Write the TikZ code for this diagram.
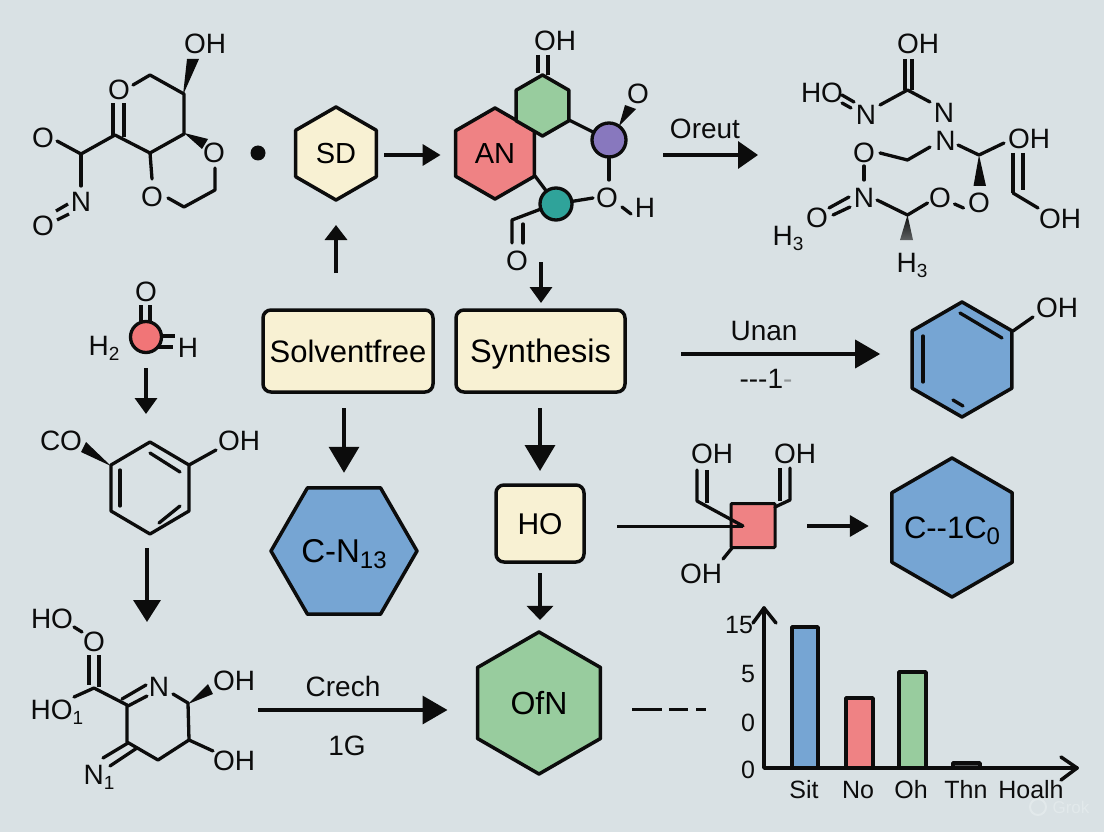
\documentclass[tikz,border=0pt]{standalone}
\usepackage{fontspec}
\setmainfont{Liberation Sans}
\usetikzlibrary{arrows.meta,shapes.geometric,calc}
\definecolor{bgc}{HTML}{D9E1E4}
\definecolor{cream}{HTML}{F8F1D3}
\definecolor{blu}{HTML}{76A5D3}
\definecolor{rd}{HTML}{EF8284}
\definecolor{grn}{HTML}{98CC9E}
\definecolor{prp}{HTML}{8878BE}
\definecolor{tel}{HTML}{2FA39A}
\definecolor{ink}{HTML}{0C0C0C}
\newcommand{\sbs}[1]{\raisebox{-5pt}{\fontsize{19}{19}\selectfont #1}}
\newcommand{\sbb}[1]{\raisebox{-6pt}{\fontsize{24}{24}\selectfont #1}}
\tikzset{
  fs/.style={font=\fontsize{#1}{#1}\selectfont,text height=0.716*#1pt,text depth=0pt,inner sep=0pt},
  lab/.style={fs=28,text=ink},
  tick/.style={fs=25,text=ink},
  bond/.style={draw=ink,line width=3.3pt,line cap=round,line join=round},
  wedge/.style={fill=ink,draw=none},
  hexv/.style={regular polygon,regular polygon sides=6,draw=ink,line width=3.5pt,line join=round,outer sep=0pt,inner sep=0pt,minimum size=#1},
  box/.style={draw=ink,line width=3.5pt,rounded corners=8pt,fill=cream,outer sep=0pt,inner sep=0pt},
  flow/.style 2 args={draw=ink,line width=3.5pt,-{Triangle[length=#1,width=#2]}},
  atom/.style={circle,draw=ink,line width=3.3pt,inner sep=0pt,outer sep=0pt,minimum size=#1},
  bar/.style={draw=ink,line width=3.5pt,line join=round},
  axis/.style={draw=ink,line width=3.5pt,line cap=round,line join=round}
}
\begin{document}
\begin{tikzpicture}[x=1pt,y=-1pt]
\useasboundingbox (0,0) rectangle (1104,832);
\fill[bgc] (0,0) rectangle (1104,832);

% ---------- main nodes
\node[hexv=93pt,shape border rotate=30,fill=cream,fs=29] (sd) at (336,153.5) {SD};
\node[hexv=91pt,shape border rotate=30,fill=rd,fs=29] (an) at (495,153.5) {AN};
\node[hexv=61pt,shape border rotate=30,fill=grn] (gh) at (542.5,105.5) {};
\node[box,minimum width=170pt,minimum height=82pt,fs=31] (solv) at (348,351) {Solventfree};
\node[box,minimum width=169pt,minimum height=82pt,fs=32.5] (syn) at (540.5,351) {Synthesis};
\node[box,minimum width=88pt,minimum height=77pt,fs=30] (ho) at (540,523.5) {HO};
\node[hexv=146pt,fill=blu,fs=33] (cn) at (344,551) {C-N\sbb{13}};
\node[hexv=142pt,shape border rotate=30,fill=grn,fs=32] (ofn) at (539,703) {OfN};
\node[hexv=115pt,shape border rotate=30,fill=blu] (phen) at (962,359.5) {};
\node[hexv=139pt,shape border rotate=30,fill=blu] (coc) at (952,527.5) {};
\node[fs=31] (coctext) at (coc.center) {C{-}{-}1C\sbb{0}};
\node[draw=ink,line width=3pt,fill=rd,minimum size=44pt,inner sep=0pt,outer sep=0pt,rounded corners=1pt] (sq) at (753,525.5) {};

% ---------- free ends
\coordinate (anout) at (541,262);
\coordinate (orS) at (663,155);
\coordinate (orT) at (758,155);
\coordinate (crS) at (258,710);
\coordinate (w1S) at (146,368);
\coordinate (w1T) at (146,414);
\coordinate (w2S) at (147,548);
\coordinate (w2T) at (147,622);
\coordinate (sdrow) at (0,155);
\coordinate (sqrow) at (0,526);

% ---------- flow arrows
\draw[flow={18pt}{21pt},shorten <=8pt,shorten >=15pt] (sdrow -| sd.east) -- (sdrow -| an.west);
\draw[flow={15pt}{22pt},shorten <=37pt,shorten >=25pt] (sd.south |- solv.north) -- (sd.south);
\draw[flow={16pt}{22pt},shorten >=7pt] (anout) -- (anout |- syn.north);
\draw[flow={20pt}{27pt}] (orS) -- (orT);
\draw[flow={26pt}{30pt},shorten <=16pt,shorten >=15pt] (cn.north |- solv.south) -- (cn.north);
\draw[flow={26pt}{30pt},shorten <=16pt,shorten >=14pt] (ho.north |- syn.south) -- (ho.north);
\draw[flow={14pt}{26pt},shorten <=11pt,shorten >=12pt] (ho.south) -- (ho.south |- ofn.north);
\draw[flow={25pt}{28pt},shorten <=56pt,shorten >=32pt] ($(syn.east)+(0,3)$) -- ($(phen.west)+(0,-5.5)$);
\draw[flow={25pt}{28pt},shorten >=30pt] (crS) -- (crS -| ofn.west);
\draw[flow={16pt}{22pt}] (w1S) -- (w1T);
\draw[flow={22pt}{27pt}] (w2S) -- (w2T);

% red square crossing arrow
\draw[ink,line width=3pt,shorten <=33pt,shorten >=10pt] (sqrow -| ho.east) -- (sqrow -| sq.center);
\draw[flow={19pt}{21pt},shorten <=32pt,shorten >=23pt] (sqrow -| sq.east) -- (sqrow -| coc.west);

% ---------- top-left molecule
\node[lab] (m1oh) at (205,43) {OH};
\node[lab] (m1o1) at (119,89) {O};
\node[lab] (m1o2) at (214,152) {O};
\node[lab] (m1o3) at (152,196) {O};
\node[lab] (m1o4) at (43,137) {O};
\node[lab] (m1n) at (81,201) {N};
\node[lab] (m1o5) at (43,225) {O};
\draw[bond] (133,85) -- (150,75) -- (184,94) -- (184,134) -- (150,153) -- (115,135) -- (81,154) -- (57,141);
\draw[bond] (81,154) -- (81,186);
\draw[bond] (150,153) -- (152,179);
\draw[bond] (168,198) -- (184,207) -- (215,190) -- (215,168);
\draw[bond,line cap=butt] (113,135) -- (113,103) (124,137) -- (124,103);
\draw[bond,line cap=butt] (57,220) -- (69,214) (56,211) -- (68,204);
\fill[wedge] (183,95) -- (187,59) -- (199,59) -- cycle;
\fill[wedge] (184,133) -- (202,149) -- (208,139) -- cycle;
\fill[ink] (258,153) circle (7.5);

% ---------- AN cluster
\node[atom=34pt,fill=prp] (pa) at (609,140) {};
\node[atom=32pt,fill=tel] (ta) at (556,204) {};
\node[lab] (m2oh) at (555,40) {OH};
\node[lab] (m2o1) at (638,93) {O};
\node[lab] (m2o2) at (607,197) {O};
\node[lab] (m2h) at (645,207) {H};
\node[lab] (m2o3) at (517,260) {O};
\draw[bond,line cap=butt] (538,55) -- (538,73) (548,55) -- (548,75);
\draw[bond] (569,120) -- (pa);
\draw[bond] (609,157) -- (609,180);
\draw[bond] (622,207) -- (631,214);
\draw[bond] (ta) -- (593,198);
\draw[bond] (535,176) -- (ta);
\draw[bond] (541,209) -- (512,220) -- (512,243);
\draw[bond] (523,224) -- (523,243);
\fill[wedge] (619,126) -- (625,105) -- (636,109) -- cycle;
\node[lab] (oreut) at (705,128) {Oreut};

% ---------- top-right molecule
\node[lab] (m3oh1) at (918,43) {OH};
\node[lab] (m3ho) at (822,92) {HO};
\node[lab] (m3n1) at (866,114) {N};
\node[lab] (m3n2) at (944,112) {N};
\node[lab] (m3n3) at (945.5,140) {N};
\node[lab] (m3o1) at (864,152) {O};
\node[lab] (m3n4) at (864,197) {N};
\node[lab] (m3o2) at (817,217) {O};
\node[lab] (m3o3) at (940,197) {O};
\node[lab] (m3o4) at (979,202) {O};
\node[lab] (m3oh2) at (1029,138) {OH};
\node[lab] (m3oh3) at (1060,218) {OH};
\node[lab] (m3h1) at (788,235) {H\sbs{3}};
\node[lab] (m3h2) at (912,262) {H\sbs{3}};
\draw[bond,line cap=butt] (905,59) -- (905,90) (912,59) -- (912,90);
\draw[bond] (880,105) -- (907.5,90) -- (930,102);
\draw[bond] (930,147) -- (907.5,160) -- (880,153);
\draw[bond] (842,95) -- (854,102) (842,103) -- (851,108);
\draw[bond] (864,166) -- (864,180);
\draw[bond] (829,208) -- (849,197) (833,215) -- (850,207);
\draw[bond] (877,200) -- (907.5,215) -- (927.5,203);
\draw[bond] (954.5,204) -- (963.5,208);
\draw[bond] (958,145) -- (979,155) -- (1004,143);
\draw[bond,line cap=butt] (1013,153) -- (1013,193) (1023,153) -- (1023,190);
\draw[bond] (1013,193) -- (1038,208);
\fill[wedge] (979,155) -- (973.5,186) -- (986,186) -- cycle;
\shade[top color=ink,bottom color=ink!60!bgc] (907.5,215) -- (900,240) -- (913,240) -- cycle;

% ---------- left: small molecule
\node[lab] (m4o) at (146,291) {O};
\node[lab] (m4h2) at (104,345) {H\sbs{2}};
\node[lab] (m4h) at (188,347) {H};
\draw[bond,line cap=butt] (141,305) -- (141,324) (150,305) -- (150,324);
\draw[bond,line cap=butt] (158,336) -- (175,336) (155,347) -- (173,347);
\node[atom=31pt,fill=rd!90!red] (m4c) at (146,337) {};

% ---------- left: ring
\node[lab] (m5co) at (61,440) {CO};
\node[lab] (m5oh) at (239,440) {OH};
\draw[bond] (150,442) -- (189,465) -- (189,511) -- (150,534) -- (111,511) -- (111,465) -- cycle;
\draw[bond] (150,453) -- (180,472);
\draw[bond] (120,470) -- (120,506);
\draw[bond] (159,523) -- (180,506);
\draw[bond] (189,465) -- (216,450);
\fill[wedge] (111,466) -- (81,452) -- (86,442) -- cycle;

% ---------- left: bottom molecule
\node[lab] (m6ho) at (52,618) {HO};
\node[lab] (m6o) at (94,641) {O};
\node[lab] (m6ho1) at (57,709) {HO\sbs{1}};
\node[lab] (m6n) at (159,686) {N};
\node[lab] (m6oh1) at (234,680) {OH};
\node[lab] (m6oh2) at (234,760) {OH};
\node[lab] (m6n1) at (99,774) {N\sbs{1}};
\draw[bond] (74,627) -- (82,632);
\draw[bond,line cap=butt] (89,655) -- (89,685) (99,655) -- (99,687);
\draw[bond] (74,697) -- (94,688) -- (127,705);
\draw[bond] (122,699) -- (146,685) (128,706) -- (147,696);
\draw[bond] (173,694) -- (188,703) -- (189,740) -- (158,760) -- (127,742) -- (127,705);
\draw[bond] (189,740) -- (213,751);
\draw[bond] (128,743) -- (103,758) (137,748) -- (110,766);
\fill[wedge] (188,704) -- (208,684) -- (213,694) -- cycle;
\node[lab] (crech) at (343,686) {Crech};
\node[lab] (oneg) at (347,745) {1G};

% ---------- dash line
\draw[ink,line width=3pt] (632,709) -- (662,709) (669,709) -- (688,709) (696,709) -- (706,709);

% ---------- Unan
\node[lab] (unan) at (764,330) {Unan};
\node[lab] (dash1) at (766,378) {{-}{-}{-}1\textcolor{ink!35!bgc}{-}};

% ---------- phenol decorations
\node[lab] (m7oh) at (1057,307) {OH};
\draw[bond] (960,313) -- (1002,338);
\draw[bond] (923,336) -- (923,382);
\draw[bond] (953,400) -- (963,406);
\draw[bond] (1013,331) -- (1033,317);

% ---------- square substituents
\node[lab] (m8oh1) at (712,453) {OH};
\node[lab] (m8oh2) at (795,453) {OH};
\node[lab] (m8oh3) at (701,573) {OH};
\draw[bond,line cap=butt] (707,470) -- (707,503);
\draw[bond] (697,470) -- (697,501) -- (743,526);
\draw[bond,line cap=butt] (780,468) -- (780,501);
\draw[bond] (790,468) -- (790,500) -- (775,507);
\draw[bond] (732,548) -- (723,559);

% ---------- chart
\draw[bar,fill=blu] (792,768) -- (792,627) -- (818,627) -- (818,768);
\draw[bar,fill=rd] (846,768) -- (846,698) -- (873,698) -- (873,768);
\draw[bar,fill=grn] (899,768) -- (899,672) -- (926,672) -- (926,768);
\draw[bar,fill=ink!65!bgc] (953,768) -- (953,763) -- (980,763) -- (980,768);
\draw[axis] (764,608) -- (764,768) -- (1077,768);
\draw[axis] (753,623) -- (764,608) -- (776,623);
\draw[axis] (1061,757) -- (1077,768) -- (1061,780);
\node[tick] (t15) at (739,625) {15};
\node[tick] (t5) at (748,674) {5};
\node[tick] (t0a) at (748,723) {0};
\node[tick] (t0b) at (748,770) {0};
\node[tick] (c1) at (804,790) {Sit};
\node[tick] (c2) at (858,790) {No};
\node[tick] (c3) at (911,790) {Oh};
\node[tick] (c4) at (966,790) {Thn};
\node[tick] (c5) at (1031,790) {Hoalh};

% ---------- watermark
\draw[bgc!75!white,line width=2pt] (1038,807) circle (8);
\node[fs=17,text=bgc!75!white] (grok) at (1071,807) {Grok};
\end{tikzpicture}
\end{document}
